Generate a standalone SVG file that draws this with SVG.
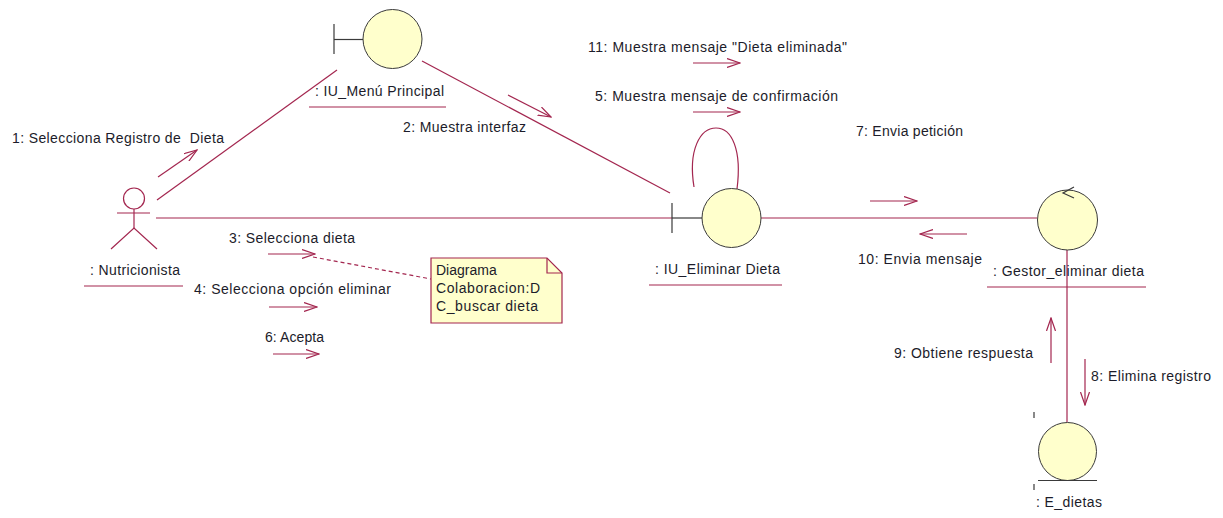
<svg xmlns="http://www.w3.org/2000/svg" width="1223" height="518" viewBox="0 0 1223 518">
<defs>
<style>
.ln{stroke:#A3264F;stroke-width:1.2;fill:none}
.msg{stroke:#A3264F;stroke-width:1.2;fill:none;marker-end:url(#ah)}
.obj{fill:#FFFFCC;stroke:#3a3a3a;stroke-width:1}
.dk{stroke:#3a3a3a;stroke-width:1.2;fill:none}
text{font-family:"Liberation Sans",Arial,sans-serif;font-size:14px;fill:#1c1c2a}
</style>
<marker id="ah" viewBox="0 0 14 10" refX="13" refY="5" markerWidth="14" markerHeight="10" markerUnits="userSpaceOnUse" orient="auto">
<path d="M0,0.5 L13,5 L0,9.5" fill="none" stroke="#A3264F" stroke-width="1.2"/>
</marker>
</defs>
<rect width="1223" height="518" fill="#ffffff"/>

<g id="connectors">
<line class="ln" x1="157" y1="200" x2="337" y2="70"/>
<line class="ln" x1="422" y1="61" x2="670" y2="193"/>
<line class="ln" x1="156" y1="218" x2="672" y2="218"/>
<path class="ln" d="M694,187 C688,150 700,128 716,128 C732,128 742,150 737,189"/>
<line class="ln" x1="761" y1="218" x2="1037" y2="218"/>
<line class="ln" x1="1067" y1="249" x2="1067" y2="422"/>
<line x1="313" y1="257" x2="431" y2="279" stroke="#A3264F" stroke-width="1.2" stroke-dasharray="4,3"/>
</g>

<g id="messages">
<line class="msg" x1="158" y1="177" x2="197" y2="150"/>
<line class="msg" x1="508" y1="95" x2="551" y2="117"/>
<line class="msg" x1="268" y1="254" x2="315" y2="254"/>
<line class="msg" x1="269" y1="307" x2="317" y2="307"/>
<line class="msg" x1="273" y1="354" x2="319" y2="354"/>
<line class="msg" x1="693" y1="63" x2="740" y2="63"/>
<line class="msg" x1="693" y1="112" x2="740" y2="112"/>
<line class="msg" x1="870" y1="201" x2="917" y2="201"/>
<line class="msg" x1="967" y1="234" x2="920" y2="234"/>
<line class="msg" x1="1051" y1="363" x2="1051" y2="318"/>
<line class="msg" x1="1085" y1="359" x2="1085" y2="405"/>
<text x="12" y="143" textLength="212">1: Selecciona Registro de&#160; Dieta</text>
<text x="403" y="132" textLength="123">2: Muestra interfaz</text>
<text x="229" y="243" textLength="126">3: Selecciona dieta</text>
<text x="194" y="294" textLength="197">4: Selecciona opción eliminar</text>
<text x="265" y="342" textLength="59">6: Acepta</text>
<text x="588" y="52" textLength="259">11: Muestra mensaje "Dieta eliminada"</text>
<text x="595" y="101" textLength="243">5: Muestra mensaje de confirmación</text>
<text x="856" y="136" textLength="107">7: Envia petición</text>
<text x="858" y="264" textLength="124">10: Envia mensaje</text>
<text x="894" y="358" textLength="139">9: Obtiene respuesta</text>
<text x="1091" y="381" textLength="120">8: Elimina registro</text>
</g>

<g id="nutricionista">
<circle cx="134" cy="198.5" r="10.5" fill="none" stroke="#A3264F" stroke-width="1.2"/>
<line class="ln" x1="117" y1="213" x2="150" y2="213"/>
<line class="ln" x1="134" y1="209" x2="134" y2="228"/>
<polyline class="ln" points="111,249 134,228 157,249"/>
<text x="90" y="275" textLength="90">: Nutricionista</text>
<line class="ln" x1="84" y1="286" x2="183" y2="286"/>
</g>

<g id="iu_menu">
<line class="dk" x1="334" y1="24" x2="334" y2="54"/>
<line class="dk" x1="334" y1="39.5" x2="363" y2="39.5"/>
<circle class="obj" cx="392.5" cy="39" r="29.5"/>
<text x="315" y="96" textLength="129">: IU_Menú Principal</text>
<line class="ln" x1="309" y1="107" x2="446" y2="107"/>
</g>

<g id="iu_eliminar">
<line class="dk" x1="672" y1="203" x2="672" y2="233"/>
<line class="dk" x1="672" y1="218" x2="702" y2="218"/>
<circle class="obj" cx="731.5" cy="218" r="29.5"/>
<text x="655" y="274" textLength="125">: IU_Eliminar Dieta</text>
<line class="ln" x1="649" y1="285" x2="782" y2="285"/>
</g>

<g id="gestor">
<circle class="obj" cx="1067.5" cy="220" r="30"/>
<polyline class="dk" points="1074,187 1063,193 1074,198"/>
<text x="993" y="276" textLength="151">: Gestor_eliminar dieta</text>
<line class="ln" x1="987" y1="287" x2="1146" y2="287"/>
</g>

<g id="e_dietas">
<circle class="obj" cx="1067.5" cy="451.5" r="29"/>
<line class="dk" x1="1038" y1="480.5" x2="1097" y2="480.5"/>
<line class="dk" x1="1034" y1="412" x2="1034" y2="418"/>
<line class="dk" x1="1034" y1="484" x2="1034" y2="490"/>
<text x="1036" y="507" textLength="66">: E_dietas</text>
</g>

<g id="note">
<path d="M431,258 L547,258 L562,273 L562,323 L431,323 Z" fill="#FFFFCC" stroke="#A3264F" stroke-width="1.2"/>
<polyline points="547,258 547,273 562,273" fill="none" stroke="#A3264F" stroke-width="1.2"/>
<text x="436" y="275">Diagrama</text>
<text x="436" y="293" textLength="104">Colaboracion:D</text>
<text x="436" y="311" textLength="102">C_buscar dieta</text>
</g>
</svg>
